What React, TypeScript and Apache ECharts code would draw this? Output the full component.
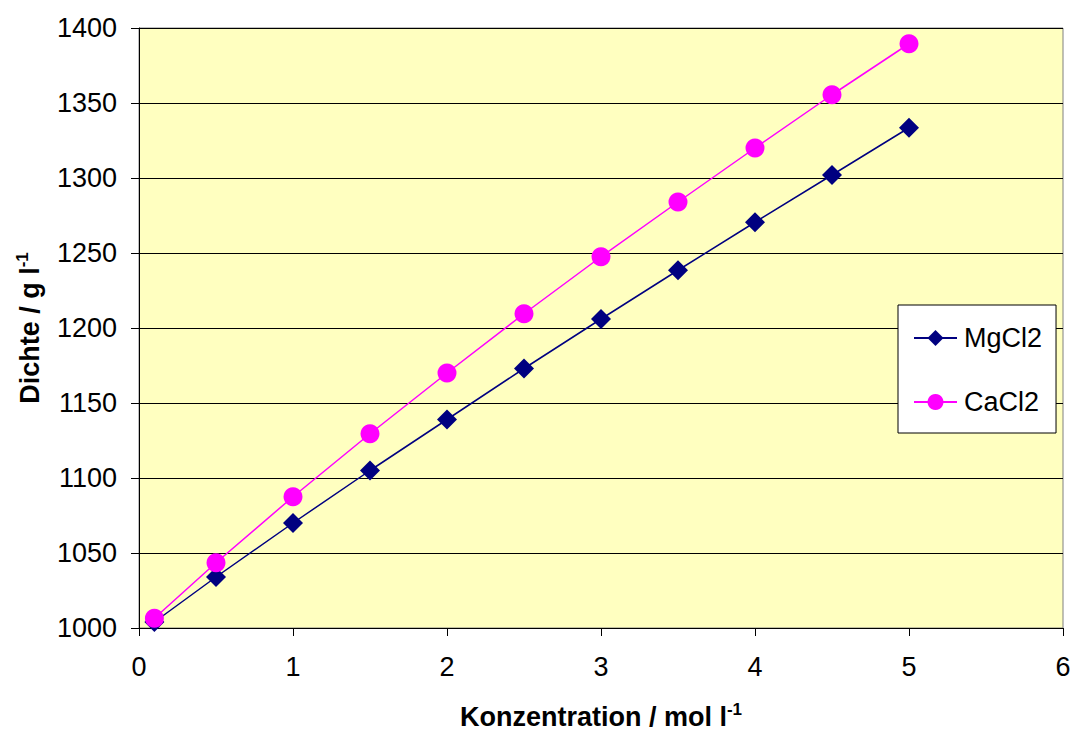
import React, { useEffect, useRef } from "react";
import * as echarts from "echarts";

// Konzentration in mol/l
const konzentration = [0.1, 0.5, 1, 1.5, 2, 2.5, 3, 3.5, 4, 4.5, 5];
// Dichte in g/l
const mgcl2 = [1004, 1034, 1070, 1105, 1139, 1173, 1206, 1238.5, 1270.5, 1302, 1333.5];
const cacl2 = [1006.5, 1043.5, 1087.5, 1129.5, 1170, 1209.5, 1247.5, 1284, 1320, 1355.5, 1389.5];

const font = "Arial, 'Liberation Sans', sans-serif";

export default function App() {
  const ref = useRef<HTMLDivElement>(null);

  useEffect(() => {
    if (!ref.current) return;
    const chart = echarts.init(ref.current, undefined, { renderer: "svg" });
    const titleRich = {
      t: { fontSize: 27, fontWeight: "bold", color: "#000", fontFamily: font, lineHeight: 32 },
      s: { fontSize: 17, fontWeight: "bold", color: "#000", fontFamily: font, verticalAlign: "top", lineHeight: 32 },
    };
    chart.setOption({
      animation: false,
      backgroundColor: "#ffffff",
      textStyle: { fontFamily: font },
      grid: {
        left: 139,
        right: 9,
        top: 28,
        bottom: 103,
        outerBoundsMode: "none",
        containLabel: false,
        show: true,
        backgroundColor: "#FFFFC0",
        borderColor: "#808080",
        borderWidth: 1,
      },
      legend: {
        orient: "vertical",
        left: 898,
        top: 305,
        backgroundColor: "#ffffff",
        borderColor: "#000000",
        borderWidth: 1,
        borderRadius: 0,
        padding: [18, 14, 16, 15],
        itemGap: 34,
        itemWidth: 43,
        itemHeight: 20,
        textStyle: { fontSize: 27, lineHeight: 30, color: "#000", fontFamily: font, padding: [0, 0, 0, 2] },
        data: ["MgCl2", "CaCl2"],
      },
      xAxis: {
        type: "value",
        min: 0,
        max: 6,
        interval: 1,
        name: "{t|Konzentration / mol l}{s|-1}",
        nameLocation: "middle",
        nameGap: 73,
        nameTextStyle: { rich: titleRich },
        axisLine: { show: true, onZero: false, lineStyle: { color: "#000", width: 1 } },
        axisTick: { show: true, inside: false, length: 8, lineStyle: { color: "#000" } },
        axisLabel: { fontSize: 27, color: "#000", margin: 25, fontFamily: font },
        splitLine: { show: false },
      },
      yAxis: {
        type: "value",
        min: 1000,
        max: 1400,
        interval: 50,
        name: "{t|Dichte / g l}{s|-1}",
        nameLocation: "middle",
        nameGap: 93,
        nameRotate: 90,
        nameTextStyle: { rich: titleRich },
        axisLine: { show: true, lineStyle: { color: "#000", width: 1 } },
        axisTick: { show: true, inside: false, length: 8, lineStyle: { color: "#000" } },
        axisLabel: {
          fontSize: 27,
          color: "#000",
          margin: 22,
          fontFamily: font,
          formatter: (v: number) => String(v),
        },
        splitLine: { show: true, lineStyle: { color: "#000", width: 1 } },
      },
      series: [
        {
          name: "MgCl2",
          type: "line",
          data: konzentration.map((x, i) => [x, mgcl2[i]]),
          symbol: "diamond",
          symbolSize: 20,
          itemStyle: { color: "#000080" },
          lineStyle: { color: "#000080", width: 1.5 },
          z: 2,
        },
        {
          name: "CaCl2",
          type: "line",
          data: konzentration.map((x, i) => [x, cacl2[i]]),
          symbol: "circle",
          symbolSize: 19,
          itemStyle: { color: "#FF00FF" },
          lineStyle: { color: "#FF00FF", width: 1.5 },
          z: 3,
        },
      ],
    });
    return () => chart.dispose();
  }, []);

  return (
    <div
      ref={ref}
      style={{ position: "fixed", left: 0, top: 0, width: 1072, height: 731 }}
    />
  );
}
